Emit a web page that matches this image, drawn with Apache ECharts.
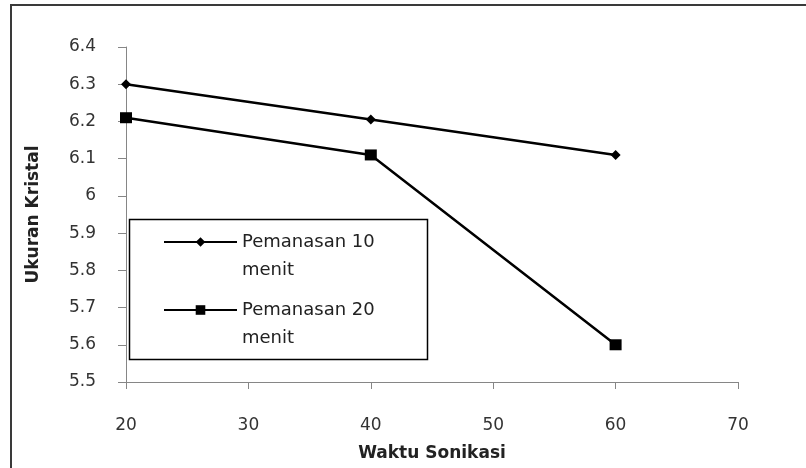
<!DOCTYPE html>
<html>
<head>
<meta charset="utf-8">
<script src="https://cdn.jsdelivr.net/npm/echarts@6/dist/echarts.min.js"></script>
<style>
  html, body { margin: 0; padding: 0; background: #fff; }
  #chart { width: 806px; height: 468px; }
</style>
</head>
<body>
<div id="chart"></div>
<script>
// Sonication time (minutes) on the x axis
var waktuSonikasi = [20, 40, 60];
// Crystal size for each heating duration
var pemanasan10 = [6.3, 6.205, 6.11];
var pemanasan20 = [6.21, 6.11, 5.6];
var seriesNames = ['Pemanasan 10\nmenit', 'Pemanasan 20\nmenit'];
// Axis ranges and tick steps
var xTicks = { min: 20, max: 70, interval: 10 };
var yTicks = { min: 5.5, max: 6.4, interval: 0.1 };

function pairs(xs, ys) {
  return xs.map(function (x, i) { return [x, ys[i]]; });
}

var font = 'DejaVu Sans';
var axisGray = '#868686';

var chart = echarts.init(document.getElementById('chart'), null, { renderer: 'canvas' });

// Each legend entry keeps its first text line level with its icon:
// an empty leading line balances the wrapped second line.
var legendBase = {
  orient: 'vertical',
  left: 163,
  padding: 0,
  itemWidth: 73,
  itemHeight: 12,
  selectedMode: false,
  formatter: function (name) { return '\n' + name; },
  textStyle: {
    fontFamily: font,
    fontSize: 18,
    color: '#222',
    lineHeight: 28
  }
};

chart.setOption({
  animation: false,
  backgroundColor: '#fff',
  grid: { left: 126, right: 68, top: 47, bottom: 86 },
  legend: [
    Object.assign({}, legendBase, { top: 200, data: [seriesNames[0]] }),
    Object.assign({}, legendBase, { top: 268, data: [seriesNames[1]] })
  ],
  xAxis: {
    type: 'value',
    min: xTicks.min,
    max: xTicks.max,
    interval: xTicks.interval,
    name: 'Waktu Sonikasi',
    nameLocation: 'middle',
    nameGap: 63,
    nameTextStyle: { fontFamily: font, fontSize: 17, fontWeight: 'bold', color: '#222' },
    axisLine: { lineStyle: { color: axisGray, width: 1 } },
    axisTick: { show: true, length: 7, lineStyle: { color: axisGray } },
    axisLabel: { margin: 35, fontFamily: font, fontSize: 17, color: '#333' },
    splitLine: { show: false }
  },
  yAxis: {
    type: 'value',
    min: yTicks.min,
    max: yTicks.max,
    interval: yTicks.interval,
    name: 'Ukuran Kristal',
    nameLocation: 'middle',
    nameRotate: 90,
    nameGap: 84,
    nameTextStyle: { fontFamily: font, fontSize: 17, fontWeight: 'bold', color: '#222' },
    axisLine: { show: true, lineStyle: { color: axisGray, width: 1 } },
    axisTick: { show: true, length: 8, lineStyle: { color: axisGray } },
    axisLabel: { margin: 30, fontFamily: font, fontSize: 17, color: '#333' },
    splitLine: { show: false }
  },
  series: [
    {
      name: seriesNames[0],
      type: 'line',
      data: pairs(waktuSonikasi, pemanasan10),
      symbol: 'diamond',
      symbolSize: [10, 10],
      itemStyle: { color: '#000' },
      lineStyle: { color: '#000', width: 2.5 },
      z: 3
    },
    {
      name: seriesNames[1],
      type: 'line',
      data: pairs(waktuSonikasi, pemanasan20),
      symbol: 'rect',
      symbolSize: [12, 11],
      itemStyle: { color: '#000' },
      lineStyle: { color: '#000', width: 2.5 },
      z: 3
    }
  ],
  graphic: [
    // legend frame
    {
      type: 'rect',
      z: 1,
      shape: { x: 129.5, y: 219.5, width: 298, height: 140 },
      style: { fill: '#fff', stroke: '#000', lineWidth: 1.5 }
    },
    // outer chart frame
    {
      type: 'rect',
      z: 10,
      shape: { x: 11, y: 5, width: 820, height: 490 },
      style: { fill: null, stroke: '#3a3a3a', lineWidth: 2 }
    },
    // bottom edge of the drawing area
    {
      type: 'rect',
      z: 20,
      shape: { x: 13, y: 458, width: 793, height: 10 },
      style: { fill: '#fff' }
    }
  ]
});
</script>
</body>
</html>
